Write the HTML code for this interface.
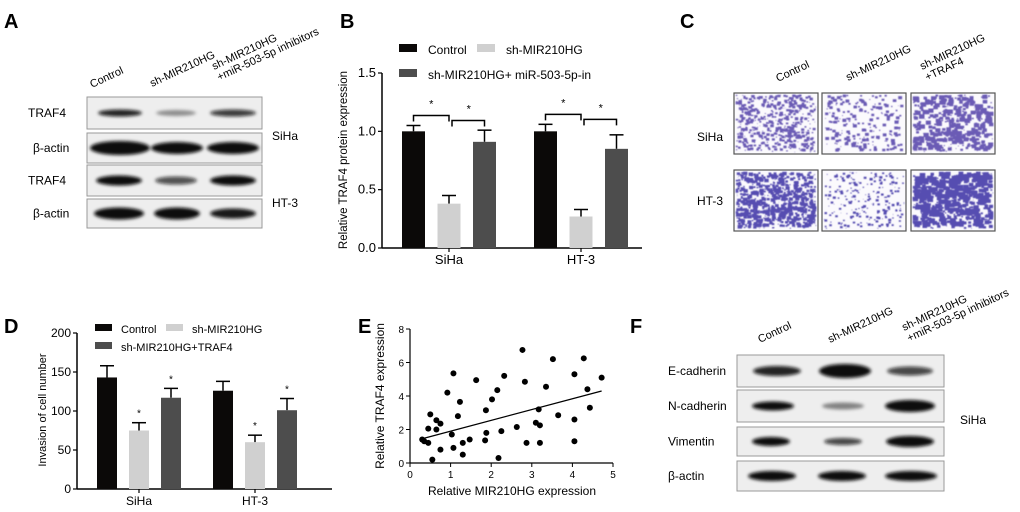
<!DOCTYPE html>
<html><head><meta charset="utf-8"><style>
html,body{margin:0;padding:0;background:#fff}
svg{display:block;font-family:"Liberation Sans",Arial,sans-serif}
</style></head><body>
<svg id="fig" width="1020" height="512" viewBox="0 0 1020 512" xmlns="http://www.w3.org/2000/svg">
<defs>
<filter id="blur" x="-20%" y="-100%" width="140%" height="300%"><feGaussianBlur stdDeviation="1.6"/></filter>
<filter id="blur2"><feGaussianBlur stdDeviation="0.5"/></filter>
</defs>
<g font-weight="bold" font-size="20">
<text x="4" y="28">A</text>
<text x="340" y="28">B</text>
<text x="680" y="28">C</text>
<text x="4" y="333">D</text>
<text x="358" y="333">E</text>
<text x="630" y="333">F</text>
</g>
<g id="pA"></g>
<g id="pB"></g>
<g id="pC"></g>
<g id="pD"></g>
<g id="pE"></g>
<g id="pF"></g>
</svg>
<script>
// ---- Data ----
const groupsB = ['SiHa', 'HT-3'];
const bControl = [1.0, 1.0];
const bControlErr = [0.05, 0.06];
const bSh = [0.38, 0.27];
const bShErr = [0.07, 0.06];
const bShInh = [0.91, 0.85];
const bShInhErr = [0.1, 0.12];
const bTicks = [0, 0.5, 1.0, 1.5];
const bTickLabels = ['0.0', '0.5', '1.0', '1.5'];

const groupsD = ['SiHa', 'HT-3'];
const dControl = [143, 126];
const dControlErr = [15, 12];
const dSh = [75, 60];
const dShErr = [10, 9];
const dShTraf = [117, 101];
const dShTrafErr = [12, 15];
const dTicks = [0, 50, 100, 150, 200];

const eX = [0.3,0.35,0.45,0.45,0.5,0.55,0.65,0.65,0.75,0.75,0.92,1.03,1.07,1.07,1.18,1.23,1.3,1.3,1.47,1.63,1.85,1.87,1.88,2.02,2.15,2.18,2.25,2.32,2.63,2.77,2.83,2.87,3.1,3.17,3.2,3.2,3.35,3.52,3.65,4.05,4.05,4.05,4.28,4.37,4.43,4.72];
const eY = [1.4,1.3,2.05,1.2,2.9,0.2,2.55,2.0,2.35,0.8,4.2,1.7,5.35,0.9,2.8,3.65,1.2,0.5,1.4,4.95,1.35,3.15,1.8,3.8,4.35,0.3,1.9,5.2,2.15,6.75,4.85,1.2,2.4,3.2,2.25,1.2,4.55,6.2,2.85,5.3,2.6,1.3,6.25,4.4,3.3,5.1];
const eFitX = [0.3, 4.72];
const eFitY = [1.45, 4.3];
const eXTicks = [0,1,2,3,4,5];
const eYTicks = [0,2,4,6,8];

const NS='http://www.w3.org/2000/svg';
function mk(parent, tag, attrs, name, text){
  const el=document.createElementNS(NS,tag);
  for(const k in attrs) el.setAttribute(k,attrs[k]);
  
  
  if(text!==undefined) el.textContent=text;
  parent.appendChild(el); return el;
}
let seed=7;function rnd(){seed=(seed*16807)%2147483647;return seed/2147483647;}

function blotRow(g, x, y, w, h, bands, name){
  mk(g,'rect',{x:x,y:y,width:w,height:h,fill:'#eeeeee',stroke:'#999','stroke-width':1},name+'-frame');
  bands.forEach((b,i)=>{
    mk(g,'ellipse',{cx:b[0],cy:y+h/2+(b[4]||0),rx:b[1],ry:b[2],fill:'#0a0a0a','fill-opacity':b[3],filter:'url(#blur)'},name+'-band-'+(i+1));
  });
}
function rotLabel(g,x,y,lines,name){
  const t=mk(g,'text',{x:x,y:y,'font-size':11,transform:`rotate(-25 ${x} ${y})`},name);
  lines.forEach((l,i)=>{mk(t,'tspan',{x:x,dy:i?12:0},name+'-line',l);});
}
// Panel A
(function(){
  const g=document.getElementById('pA');
  rotLabel(g,92,88,['Control'],'lane-label-control');
  rotLabel(g,152,87,['sh-MIR210HG'],'lane-label-sh');
  rotLabel(g,214,70,['sh-MIR210HG','+miR-503-5p inhibitors'],'lane-label-sh-inh');
  const rows=[
    [97,32,'TRAF4',[[120,22,3.5,0.9],[176,20,3,0.4],[233,23,3.5,0.8]]],
    [133,30,'β-actin',[[120,30,7,1],[177,26,6,1],[233,26,6,1]]],
    [165,31,'TRAF4',[[119,23,5,1],[176,21,4,0.7],[233,23,5,1]]],
    [199,29,'β-actin',[[119,25,6,1],[177,23,6,1],[233,23,5,0.95]]]];
  rows.forEach((r,i)=>{
    blotRow(g,87,r[0],175,r[1],r[3],'blot-a-row-'+(i+1));
    mk(g,'text',{x:r[2]==='TRAF4'?28:33,y:r[0]+r[1]/2+4,'font-size':12},'row-label-'+(i+1),r[2]);
  });
  mk(g,'text',{x:272,y:140,'font-size':12},'cell-line-siha','SiHa');
  mk(g,'text',{x:272,y:207,'font-size':12},'cell-line-ht3','HT-3');
})();

function barChart(g, o){
  const ys=v=>o.y0-(v-o.ymin)/(o.ymax-o.ymin)*(o.y0-o.y1);
  mk(g,'line',{x1:o.ax,y1:o.y0,x2:o.ax,y2:o.y1,stroke:'#000','stroke-width':1.5},'y-axis');
  mk(g,'line',{x1:o.ax,y1:o.y0,x2:o.ax2,y2:o.y0,stroke:'#000','stroke-width':1.5},'x-axis');
  o.ticks.forEach((t,i)=>{
    mk(g,'line',{x1:o.ax-4,y1:ys(t),x2:o.ax,y2:ys(t),stroke:'#000','stroke-width':1.2},'y-tick');
    mk(g,'text',{x:o.ax-6,y:ys(t)+4,'font-size':o.fs,'text-anchor':'end'},'y-tick-label',o.tickLabels[i]);
  });
  const cols=['#0b0908','#d0d0d0','#4d4d4d'];
  o.series.forEach((s,si)=>{
    s.vals.forEach((v,gi)=>{
      const x=o.gx[gi]+si*o.step;
      const top=ys(v), et=ys(v+s.err[gi]);
      mk(g,'line',{x1:x+o.bw/2,y1:top,x2:x+o.bw/2,y2:et,stroke:'#000','stroke-width':1.5},'error-bar');
      mk(g,'line',{x1:x+o.bw/2-7,y1:et,x2:x+o.bw/2+7,y2:et,stroke:'#000','stroke-width':1.5},'error-cap');
      mk(g,'rect',{x:x,y:top,width:o.bw,height:o.y0-top,fill:cols[si]},'bar-'+s.key+'-'+o.groups[gi].toLowerCase());
      if(o.stars && si>0) mk(g,'text',{x:x+o.bw/2,y:et-6,'font-size':10,'text-anchor':'middle'},'significance-star','*');
    });
  });
  o.groups.forEach((gr,gi)=>{
    const c=o.gx[gi]+o.step+o.bw/2;
    mk(g,'line',{x1:c,y1:o.y0,x2:c,y2:o.y0+4,stroke:'#000','stroke-width':1.2},'x-tick');
    mk(g,'text',{x:c,y:o.y0+16,'font-size':o.fs,'text-anchor':'middle'},'x-tick-label',gr);
  });
  return ys;
}
// Panel B
(function(){
  const g=document.getElementById('pB');
  const ys=barChart(g,{ax:382,ax2:642,y0:248,y1:73,ymin:0,ymax:1.5,ticks:bTicks,tickLabels:bTickLabels,fs:13,
    gx:[402,534],step:35.5,bw:23,groups:groupsB,
    series:[{key:'control',vals:bControl,err:bControlErr},{key:'sh',vals:bSh,err:bShErr},{key:'shinh',vals:bShInh,err:bShInhErr}]});
  mk(g,'text',{x:0,y:0,'font-size':11.5,'text-anchor':'middle',transform:'translate(347 160) rotate(-90)'},'y-axis-title','Relative TRAF4 protein expression');
  groupsB.forEach((gr,gi)=>{
    const x0=402+gi*132;
    const c1=x0+11.5,c2=x0+35.5+11.5,c3=x0+71+11.5;
    const h1=ys(bControl[gi]+bControlErr[gi])-10;
    mk(g,'path',{d:`M${c1} ${h1+6}V${h1}H${c2}V${h1+6}`,fill:'none',stroke:'#000','stroke-width':1.5},'bracket-1');
    mk(g,'text',{x:(c1+c2)/2,y:h1-8,'font-size':11,'text-anchor':'middle'},'bracket-star','*');
    const h2=Math.min(h1+5, ys(bShInh[gi]+bShInhErr[gi])-4);
    mk(g,'path',{d:`M${c2+3} ${h2+6}V${h2}H${c3}V${h2+6}`,fill:'none',stroke:'#000','stroke-width':1.5},'bracket-2');
    mk(g,'text',{x:(c2+c3)/2+2,y:h2-8,'font-size':11,'text-anchor':'middle'},'bracket-star','*');
  });
  const lg=[[399,54,'#0b0908','Control'],[477,54,'#d0d0d0','sh-MIR210HG'],[399,79,'#4d4d4d','sh-MIR210HG+ miR-503-5p-in']];
  lg.forEach((l,i)=>{
    mk(g,'rect',{x:l[0],y:l[1]-10,width:18,height:8,fill:l[2]},'legend-swatch-'+(i+1));
    mk(g,'text',{x:l[0]+29,y:l[1],'font-size':12},'legend-label-'+(i+1),l[3]);
  });
})();

// Panel C
(function(){
  const g=document.getElementById('pC');
  rotLabel(g,778,82,['Control'],'col-label-control');
  rotLabel(g,848,81,['sh-MIR210HG'],'col-label-sh');
  rotLabel(g,922,70,['sh-MIR210HG','+TRAF4'],'col-label-sh-traf4');
  mk(g,'text',{x:697,y:141,'font-size':12},'row-label-siha','SiHa');
  mk(g,'text',{x:697,y:205,'font-size':12},'row-label-ht3','HT-3');
  const xs=[734,822,911], yrow=[93,170], dens=[[520,220,420],[700,240,620]], sz=[[3,3.5,5],[4,2.6,5.5]];
  yrow.forEach((y,ri)=>xs.forEach((x,ci)=>{
    const w=84,h=61;
    const cg=mk(g,'g',{},'invasion-image-'+(ri+1)+'-'+(ci+1));
    mk(cg,'rect',{x:x,y:y,width:w,height:h,fill:'#fbfafd',stroke:'#555','stroke-width':1.2},'image-frame');
    let d='';
    for(let k=0;k<dens[ri][ci];k++){
      const r=0.6+rnd()*sz[ri][ci];
      const px=x+1.5+rnd()*(w-3-r), py=y+1.5+rnd()*(h-3-r);
      d+=`M${px.toFixed(1)} ${py.toFixed(1)}h${r.toFixed(1)}v${(r*0.8).toFixed(1)}h-${r.toFixed(1)}z`;
    }
    mk(cg,'path',{d:d,fill:ri?'#3a2fa3':'#5240a8','fill-opacity':0.85,filter:'url(#blur2)'},'stained-cells');
  }));
})();

// Panel D
(function(){
  const g=document.getElementById('pD');
  barChart(g,{ax:77,ax2:332,y0:489,y1:333,ymin:0,ymax:200,ticks:dTicks,tickLabels:dTicks.map(String),fs:12,
    gx:[97,213],step:32,bw:20,groups:groupsD,stars:true,
    series:[{key:'control',vals:dControl,err:dControlErr},{key:'sh',vals:dSh,err:dShErr},{key:'shtraf4',vals:dShTraf,err:dShTrafErr}]});
  mk(g,'text',{x:0,y:0,'font-size':11,'text-anchor':'middle',transform:'translate(46 410) rotate(-90)'},'y-axis-title','Invasion of cell number');
  const lg=[[95,333,'#0b0908','Control'],[166,333,'#d0d0d0','sh-MIR210HG'],[95,351,'#4d4d4d','sh-MIR210HG+TRAF4']];
  lg.forEach((l,i)=>{
    mk(g,'rect',{x:l[0],y:l[1]-9,width:17,height:7,fill:l[2]},'legend-swatch-'+(i+1));
    mk(g,'text',{x:l[0]+26,y:l[1],'font-size':11},'legend-label-'+(i+1),l[3]);
  });
})();

// Panel E
(function(){
  const g=document.getElementById('pE');
  const x0=410,x1=613,y0=463,y1=329;
  const xs=v=>x0+v/5*(x1-x0), ys=v=>y0-v/8*(y0-y1);
  mk(g,'line',{x1:x0,y1:y0,x2:x0,y2:y1,stroke:'#000','stroke-width':1.2},'y-axis');
  mk(g,'line',{x1:x0,y1:y0,x2:x1,y2:y0,stroke:'#000','stroke-width':1.2},'x-axis');
  eXTicks.forEach(t=>{
    mk(g,'line',{x1:xs(t),y1:y0,x2:xs(t),y2:y0+4,stroke:'#000'},'x-tick');
    mk(g,'text',{x:xs(t),y:y0+15,'font-size':10,'text-anchor':'middle'},'x-tick-label',String(t));
  });
  eYTicks.forEach(t=>{
    mk(g,'line',{x1:x0-4,y1:ys(t),x2:x0,y2:ys(t),stroke:'#000'},'y-tick');
    mk(g,'text',{x:x0-6,y:ys(t)+4,'font-size':10,'text-anchor':'end'},'y-tick-label',String(t));
  });
  eX.forEach((v,i)=>mk(g,'circle',{cx:xs(v),cy:ys(eY[i]),r:3,fill:'#000'},'data-point'));
  mk(g,'line',{x1:xs(eFitX[0]),y1:ys(eFitY[0]),x2:xs(eFitX[1]),y2:ys(eFitY[1]),stroke:'#000','stroke-width':1.3},'regression-line');
  mk(g,'text',{x:512,y:495,'font-size':12,'text-anchor':'middle'},'x-axis-title','Relative MIR210HG expression');
  mk(g,'text',{x:0,y:0,'font-size':12,'text-anchor':'middle',transform:'translate(384 396) rotate(-90)'},'y-axis-title','Relative TRAF4 expression');
})();

// Panel F
(function(){
  const g=document.getElementById('pF');
  rotLabel(g,760,343,['Control'],'lane-label-control');
  rotLabel(g,830,343,['sh-MIR210HG'],'lane-label-sh');
  rotLabel(g,904,331,['sh-MIR210HG','+miR-503-5p inhibitors'],'lane-label-sh-inh');
  const rows=[
    [355,32,'E-cadherin',[[777,24,5,0.9],[845,26,7,1],[910,23,4.5,0.75]]],
    [390,32,'N-cadherin',[[773,21,4.5,1],[843,21,3.5,0.45],[910,25,6,1]]],
    [427,29,'Vimentin',[[771,19,4.5,1],[843,19,3.5,0.75],[910,24,5.5,1]]],
    [461,30,'β-actin',[[772,24,5,1],[842,24,5,1],[911,26,5,1]]]];
  rows.forEach((r,i)=>{
    blotRow(g,737,r[0],207,r[1],r[3],'blot-f-row-'+(i+1));
    mk(g,'text',{x:668,y:r[0]+r[1]/2+4,'font-size':12},'row-label-'+(i+1),r[2]);
  });
  mk(g,'text',{x:960,y:424,'font-size':12},'cell-line-siha','SiHa');
})();
</script>
</body></html>
